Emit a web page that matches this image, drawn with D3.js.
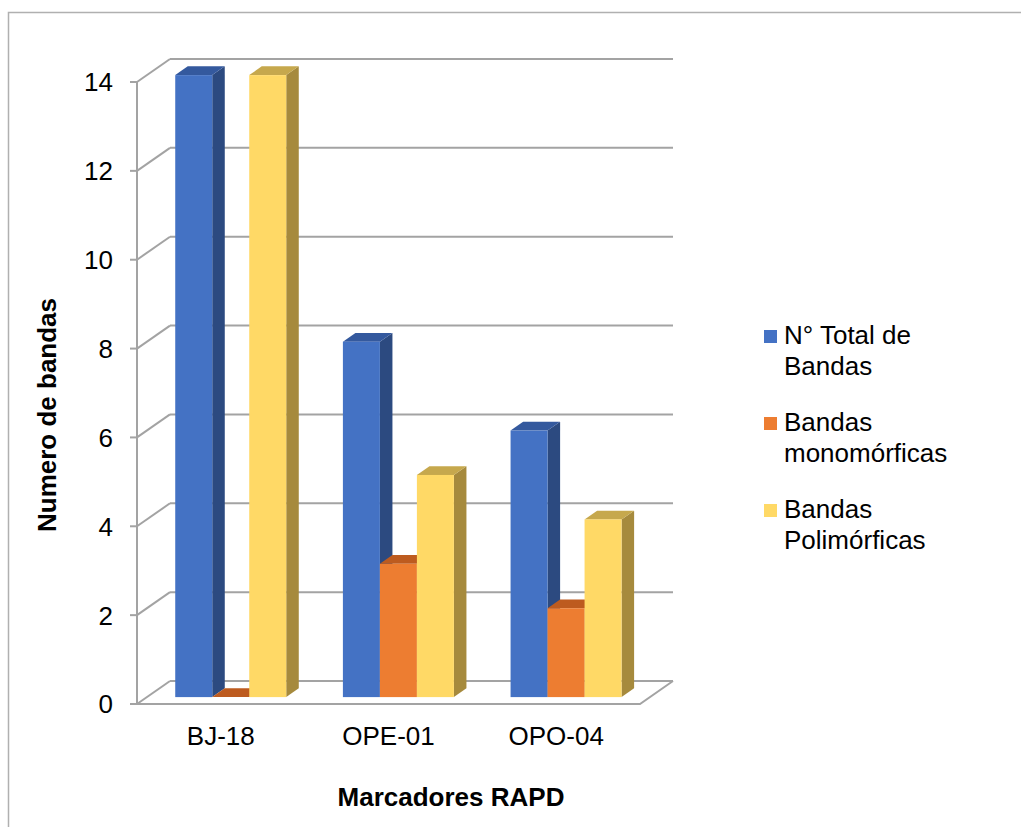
<!DOCTYPE html>
<html>
<head>
<meta charset="utf-8">
<script src="https://cdn.jsdelivr.net/npm/d3@7"></script>
<style>
  body { margin: 0; background: #fff; }
  text { font-family: "Liberation Sans", Arial, sans-serif; fill: #000; }
</style>
</head>
<body>
<svg id="chart" width="1021" height="827"></svg>
<script>
// data
let categories = ['BJ-18', 'OPE-01', 'OPO-04'];
let seriesNames = ['N° Total de Bandas', 'Bandas monomórficas', 'Bandas Polimórficas'];
let totalBandas = [14, 8, 6];
let monoBandas = [0, 3, 2];
let poliBandas = [14, 5, 4];
let yTicks = [0, 2, 4, 6, 8, 10, 12, 14];

let seriesValues = [totalBandas, monoBandas, poliBandas];
let legendLines = [['N° Total de', 'Bandas'], ['Bandas', 'monomórficas'], ['Bandas', 'Polimórficas']];

// face colours: front, side, top
let faceColors = [
	{ front: '#4472c4', side: '#2c4a80', top: '#34599e' },
	{ front: '#ed7d31', side: '#a9561f', top: '#bd5b1f' },
	{ front: '#ffd966', side: '#a68a3d', top: '#c6a84d' }
];

let svg = d3.select('#chart');

// chart border (only left and top visible)
svg.append('path')
	.attr('d', 'M8.5,827 L8.5,12.5 L1021,12.5')
	.attr('fill', 'none')
	.attr('stroke', '#b0b0b0')
	.attr('stroke-width', 1.5);

// 3D geometry
let depthX = 33, depthY = -23;
let barDepth0 = 0.3, barDepth1 = 0.68;

let yScale = d3.scaleLinear()
	.domain([0, 14])
	.range([704, 82]);

let xScale = d3.scaleBand()
	.domain(categories)
	.range([137, 640])
	.paddingInner(0.338)
	.paddingOuter(0.169);

let innerScale = d3.scaleBand()
	.domain(d3.range(seriesNames.length))
	.range([0, xScale.bandwidth()]);

let gridColor = '#a3a3a3';
let grid = svg.append('g').attr('class', 'grid');

// back wall and side wall gridlines
yTicks.forEach(t => {
	let y = yScale(t);
	grid.append('line')
		.attr('x1', 137 + depthX).attr('y1', y + depthY)
		.attr('x2', 640 + depthX).attr('y2', y + depthY)
		.attr('stroke', gridColor).attr('stroke-width', 2);
	grid.append('line')
		.attr('x1', 137).attr('y1', y)
		.attr('x2', 137 + depthX).attr('y2', y + depthY)
		.attr('stroke', gridColor).attr('stroke-width', 2);
});

// floor front edge + right edge
grid.append('path')
	.attr('d', `M137,${yScale(0)} L640,${yScale(0)} L${640 + depthX},${yScale(0) + depthY}`)
	.attr('fill', 'none')
	.attr('stroke', gridColor).attr('stroke-width', 2);

// y axis line and ticks
grid.append('line')
	.attr('x1', 137).attr('y1', yScale(14))
	.attr('x2', 137).attr('y2', yScale(0))
	.attr('stroke', gridColor).attr('stroke-width', 2);
yTicks.forEach(t => {
	grid.append('line')
		.attr('x1', 130).attr('y1', yScale(t))
		.attr('x2', 137).attr('y2', yScale(t))
		.attr('stroke', gridColor).attr('stroke-width', 2);
});

// y tick labels
svg.append('g')
	.selectAll('text')
	.data(yTicks)
	.enter()
	.append('text')
		.attr('x', 113)
		.attr('y', d => yScale(d))
		.attr('dy', '0.36em')
		.attr('text-anchor', 'end')
		.style('font-size', '26px')
		.text(d => d);

// bars
let bars = [];
categories.forEach((c, ci) => {
	seriesValues.forEach((vals, si) => {
		bars.push({ cat: c, series: si, value: vals[ci] });
	});
});

let barGroup = svg.append('g').attr('class', 'bars');
bars.forEach(d => {
	let x0 = xScale(d.cat) + innerScale(d.series) + depthX * barDepth0;
	let w = innerScale.bandwidth();
	let yb = yScale(0) + depthY * barDepth0;
	let yt = yScale(d.value) + depthY * barDepth0;
	let ddx = depthX * (barDepth1 - barDepth0);
	let ddy = depthY * (barDepth1 - barDepth0);
	let col = faceColors[d.series];
	let g = barGroup.append('g');
	// side
	g.append('path')
		.attr('d', `M${x0 + w},${yt} L${x0 + w + ddx},${yt + ddy} L${x0 + w + ddx},${yb + ddy} L${x0 + w},${yb} Z`)
		.attr('fill', col.side);
	// top
	g.append('path')
		.attr('d', `M${x0},${yt} L${x0 + ddx},${yt + ddy} L${x0 + w + ddx},${yt + ddy} L${x0 + w},${yt} Z`)
		.attr('fill', col.top);
	// front
	g.append('rect')
		.attr('x', x0)
		.attr('y', yt)
		.attr('width', w)
		.attr('height', yb - yt)
		.attr('fill', col.front);
});

// category labels
svg.append('g')
	.selectAll('text')
	.data(categories)
	.enter()
	.append('text')
		.attr('x', d => xScale(d) + xScale.bandwidth() / 2)
		.attr('y', 745)
		.attr('text-anchor', 'middle')
		.style('font-size', '26px')
		.text(d => d);

// axis titles
svg.append('text')
	.attr('x', 451)
	.attr('y', 806)
	.attr('text-anchor', 'middle')
	.style('font-size', '26px')
	.style('font-weight', 'bold')
	.text('Marcadores RAPD');

svg.append('text')
	.attr('transform', 'translate(56, 415) rotate(-90)')
	.attr('text-anchor', 'middle')
	.style('font-size', '26px')
	.style('font-weight', 'bold')
	.text('Numero de bandas');

// legend
let legend = svg.append('g').attr('class', 'legend');
seriesNames.forEach((name, i) => {
	let y0 = 344 + i * 87;
	legend.append('rect')
		.attr('x', 764)
		.attr('y', y0 - 14)
		.attr('width', 13)
		.attr('height', 13)
		.attr('fill', faceColors[i].front);
	legend.append('text')
		.attr('x', 784)
		.attr('y', y0)
		.style('font-size', '26px')
		.selectAll('tspan')
		.data(legendLines[i])
		.enter()
		.append('tspan')
			.attr('x', 784)
			.attr('dy', (d, j) => j === 0 ? 0 : 31)
			.text(d => d);
});
</script>
</body>
</html>
